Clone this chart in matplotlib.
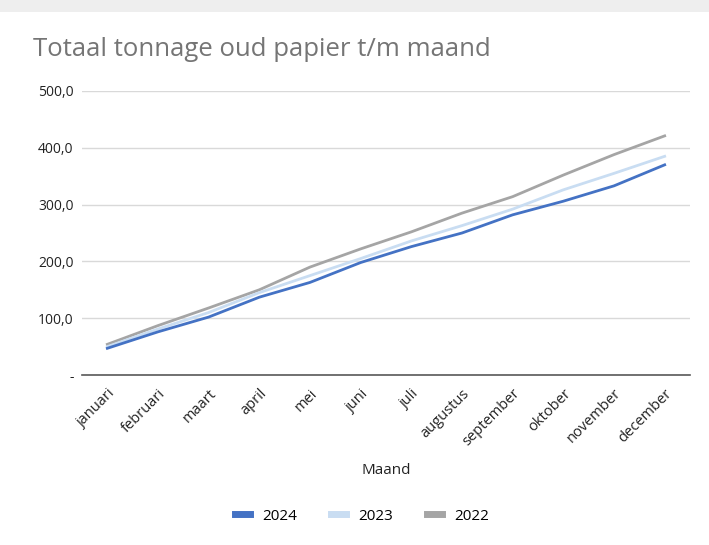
import matplotlib.pyplot as plt
from matplotlib.patches import Rectangle

# data
maanden = ['januari', 'februari', 'maart', 'april', 'mei', 'juni', 'juli',
           'augustus', 'september', 'oktober', 'november', 'december']
t2024 = [47, 76, 102, 137, 163, 198, 226, 250, 282, 306, 333, 370]
t2023 = [50, 81, 110, 145, 175, 205, 236, 263, 292, 326, 355, 385]
t2022 = [54, 87, 118, 150, 190, 222, 252, 285, 314, 352, 388, 421]
yticks = [0, 100, 200, 300, 400, 500]
ylabels = ['-', '100,0', '200,0', '300,0', '400,0', '500,0']

plt.rcParams['font.family'] = ['Open Sans', 'DejaVu Sans']

fig = plt.figure(figsize=(7.09, 5.45), dpi=100)
fig.patch.set_facecolor('white')

# screenshot shadow at top
fig.patches.append(Rectangle((0, 1 - 12 / 545), 1, 12 / 545, transform=fig.transFigure,
                             facecolor='#eeeeee', edgecolor='none', zorder=0))

ax = fig.add_axes([82 / 709, 1 - 375 / 545, (690 - 82) / 709, (375 - 91) / 545])

x = range(len(maanden))
ax.plot(x, t2022, color='#a5a5a5', lw=2.0, label='2022', zorder=3)
ax.plot(x, t2023, color='#c9ddf2', lw=2.0, label='2023', zorder=4)
ax.plot(x, t2024, color='#4472c4', lw=2.0, label='2024', zorder=5)

ax.set_xlim(-0.5, len(maanden) - 0.5)
ax.set_ylim(0, 500)
ax.set_yticks(yticks)
ax.set_yticklabels(ylabels, fontsize=10, color='#222222')
ax.set_xticks(list(x))
ax.set_xticklabels(maanden, rotation=45, ha='right', rotation_mode='anchor',
                   fontsize=10.5, color='#222222')
ax.tick_params(length=0, pad=6)
ax.tick_params(axis='x', pad=8)

ax.grid(axis='y', color='#d9d9d9', lw=1)
ax.set_axisbelow(True)
for s in ['top', 'right', 'left']:
    ax.spines[s].set_visible(False)
ax.spines['bottom'].set_color('#595959')
ax.spines['bottom'].set_linewidth(1.2)

ax.set_xlabel('Maand', fontsize=11, color='#222222', labelpad=10)

fig.text(33 / 709, 1 - 50 / 545, 'Totaal tonnage oud papier t/m maand',
         fontsize=18.5, color='#757575', va='center', ha='left')

h, l = ax.get_legend_handles_labels()
order = [2, 1, 0]
leg = fig.legend([h[i] for i in order], [l[i] for i in order], loc='center',
                 bbox_to_anchor=(362 / 709, 1 - 516 / 545), ncol=3, frameon=False,
                 fontsize=11, handlelength=1.0, handletextpad=0.8, columnspacing=2.2)
for line in leg.get_lines():
    line.set_linewidth(5)

fig.savefig('out.png', dpi=100)
